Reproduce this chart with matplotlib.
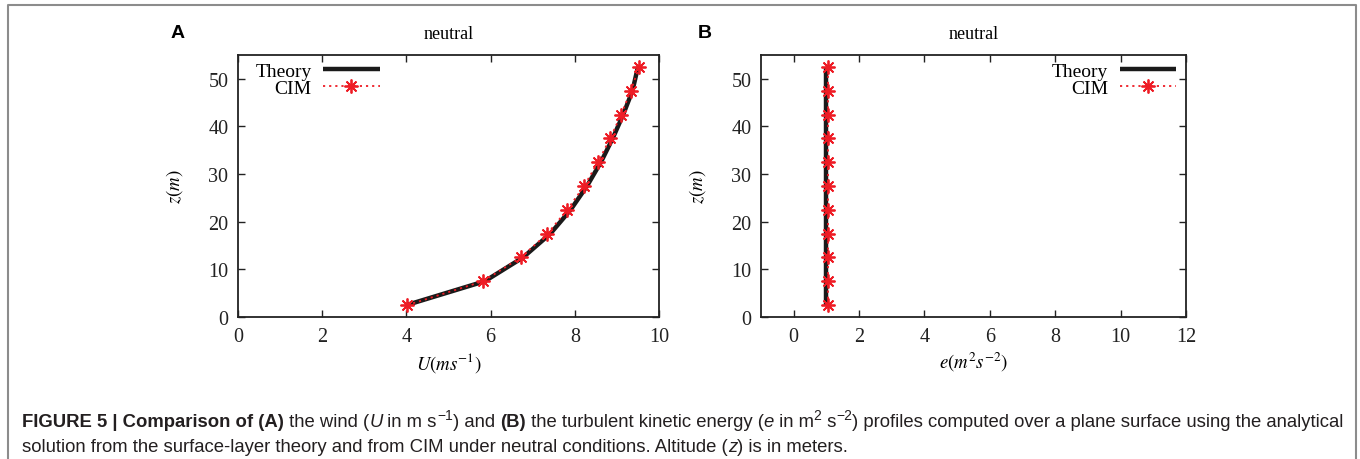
import numpy as np
import matplotlib
matplotlib.use("Agg")
import matplotlib.pyplot as plt
from matplotlib.lines import Line2D

plt.rcParams['font.family'] = ['Liberation Serif', 'DejaVu Serif']
plt.rcParams['mathtext.fontset'] = 'stix'

# ---- data ----
z_levels = [2.5, 7.5, 12.5, 17.5, 22.5, 27.5, 32.5, 37.5, 42.5, 47.5, 52.5]
u_theory = [4.00, 5.86, 6.77, 7.42, 7.90, 8.29, 8.62, 8.90, 9.15, 9.37, 9.50]
u_cim = [4.02, 5.82, 6.72, 7.35, 7.82, 8.22, 8.55, 8.84, 9.10, 9.33, 9.53]
e_theory = [1.0] * 11
e_cim = [1.05] * 11

u_ticks = [0, 2, 4, 6, 8, 10]
e_ticks = [0, 2, 4, 6, 8, 10, 12]
z_ticks = [0, 10, 20, 30, 40, 50]

W, H = 1360, 460
fig = plt.figure(figsize=(13.6, 4.6), dpi=100)

star = (8, 2, 0)


def panel(rect, x_th, x_cim, xlim, xticks, xlabel, letter, leg_loc, leg_anchor):
    ax = fig.add_axes(rect)
    ax.plot(x_th, z_levels, color='#1a1a1a', lw=3.2, label='Theory', solid_capstyle='butt')
    ax.plot(x_cim, z_levels, color='#ee1c25', lw=1.3, ls=(0, (1.2, 2.2)),
            marker=star, ms=10, mew=1.3, label='CIM')
    ax.set_xlim(*xlim)
    ax.set_ylim(0, 55)
    ax.set_xticks(xticks)
    ax.set_yticks(z_ticks)
    ax.tick_params(direction='in', top=True, right=True, length=5, width=1,
                   labelsize=14.5, pad=7, colors='#222222')
    for sp in ax.spines.values():
        sp.set_linewidth(1.3)
        sp.set_color('#222222')
    ax.set_xlabel(xlabel, fontsize=13.5, labelpad=3)
    ax.set_ylabel(r'$z(m)$', fontsize=13.5, labelpad=17)
    ax.set_title('neutral', fontsize=13, pad=12)
    ax.legend(loc=leg_loc, bbox_to_anchor=leg_anchor, frameon=False, fontsize=14,
              markerfirst=False, handlelength=2.9, handletextpad=0.6,
              labelspacing=0.0, borderaxespad=0.0, borderpad=0.0)
    l, b, w, h = rect
    fig.text(l + (178 - 238) / W if letter == 'A' else l + (705 - 761) / W,
             (H - 33) / H, letter, fontsize=14, fontweight='bold',
             family=['Liberation Sans', 'DejaVu Sans'], ha='center', va='center')
    return ax


axA = panel([238 / W, (H - 318) / H, (659 - 238) / W, (318 - 56) / H],
            u_theory, u_cim, (0, 10), u_ticks, r'$U(ms^{-1})$', 'A', 'upper left',
            ((268 - 238) / (659 - 238) - 0.03, 1 - (63 - 56) / (318 - 56)))
axB = panel([761 / W, (H - 318) / H, (1186 - 761) / W, (318 - 56) / H],
            e_theory, e_cim, (-1, 12), e_ticks, r'$e(m^{2}s^{-2})$', 'B', 'upper right',
            ((1176 - 761) / (1186 - 761), 1 - (63 - 56) / (318 - 56)))

# gray frame around the figure (open at the bottom)
fig.add_artist(Line2D([8 / W, 8 / W, 1356 / W, 1356 / W],
                      [0, (H - 6) / H, (H - 6) / H, 0],
                      transform=fig.transFigure, color='#8c8c8c', lw=1.5))

# ---- caption, drawn piece by piece ----
sans = ['Liberation Sans', 'DejaVu Sans']
cap_size = 13.3


def caption_line(pieces, x0, ybase):
    last = None
    for s, kind in pieces:
        kw = dict(fontsize=cap_size, family=sans, color='#231f20', va='baseline')
        dy = 0
        if kind == 'b':
            kw['fontweight'] = 'bold'
        elif kind == 'i':
            kw['fontstyle'] = 'italic'
        elif kind == 'sup':
            kw['fontsize'] = cap_size * 0.75
            dy = 7
        if last is None:
            last = fig.text(x0 / W, ybase / H, s, **kw)
        else:
            last = plt.annotate(s, xy=(1, ybase + dy), xycoords=(last, 'figure pixels'),
                                annotation_clip=False, **kw)


line1 = [("FIGURE 5 | Comparison of (A)", 'b'), (" the wind (", 'n'), ("U", 'i'),
         (" in m s", 'n'), ("\u22121", 'sup'), (") and ", 'n'), ("(B)", 'b'),
         (" the turbulent kinetic energy (", 'n'), ("e", 'i'), (" in m", 'n'),
         ("2", 'sup'), (" s", 'n'), ("\u22122", 'sup'),
         (") profiles computed over a plane surface using the analytical", 'n')]
line2 = [("solution from the surface-layer theory and from CIM under neutral conditions. Altitude (", 'n'),
         ("z", 'i'), (") is in meters.", 'n')]

caption_line(line1, 22, H - 427)
caption_line(line2, 22, H - 452)

fig.savefig('out.png', dpi=100)
